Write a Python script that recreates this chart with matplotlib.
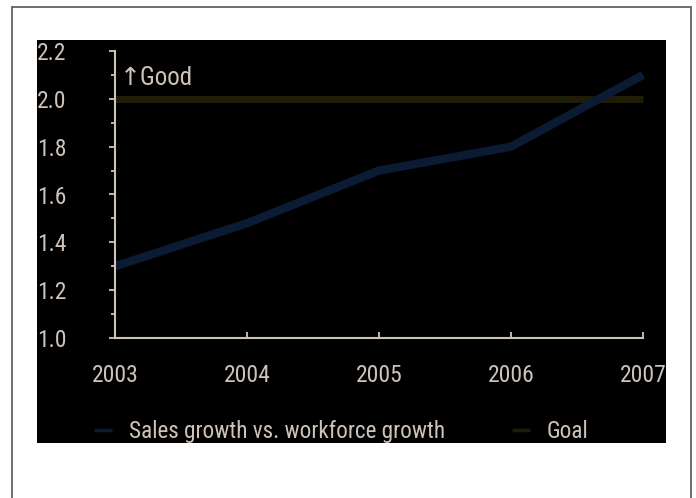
import matplotlib
matplotlib.use("Agg")
import matplotlib.pyplot as plt
from matplotlib.patches import Rectangle
from matplotlib.ticker import MultipleLocator

years = [2003, 2004, 2005, 2006, 2007]
ratio = [1.30, 1.48, 1.70, 1.80, 2.10]
goal = [2.0, 2.0, 2.0, 2.0, 2.0]
y_ticks = [1.0, 1.2, 1.4, 1.6, 1.8, 2.0, 2.2]

plt.rcParams['font.family'] = ['Roboto Condensed', 'DejaVu Sans']
txt = '#cdc3b8'
line_col = '#0b1b33'
goal_col = '#1f1c07'

fig = plt.figure(figsize=(6.96, 4.98), dpi=100)
fig.patch.set_facecolor('white')

# outer frame of the screenshot
fig.patches.append(Rectangle((12 / 696, -0.01), 679 / 696, 1 - 7 / 498 + 0.01,
                             transform=fig.transFigure, fill=False, zorder=-2,
                             edgecolor='#555555', linewidth=1.2))
# black chart panel
fig.patches.append(Rectangle((37 / 696, 55 / 498), 629 / 696, 403 / 498,
                             transform=fig.transFigure, facecolor='black',
                             edgecolor='none', zorder=-1))

ax = fig.add_axes([115 / 696, 160 / 498, 528 / 696, 287 / 498])
ax.set_facecolor('none')

ax.plot(years, goal, color=goal_col, lw=5, clip_on=False, solid_capstyle='butt',
        label='Goal')
ax.plot(years, ratio, color=line_col, lw=6, clip_on=False, solid_capstyle='butt',
        label='Sales growth vs. workforce growth')

ax.set_xlim(2003, 2007)
ax.set_ylim(1.0, 2.2)
ax.set_xticks(years)
ax.set_yticks(y_ticks)
ax.set_yticklabels(["{:.1f}".format(v) for v in y_ticks])
ax.yaxis.set_minor_locator(MultipleLocator(0.1))

for s in ['top', 'right']:
    ax.spines[s].set_visible(False)
for s in ['left', 'bottom']:
    ax.spines[s].set_color(txt)
    ax.spines[s].set_linewidth(1.5)

ax.tick_params(axis='y', which='both', colors=txt, length=4, width=1.3,
               labelsize=17, pad=52)
for lbl in ax.get_yticklabels():
    lbl.set_horizontalalignment('left')
ax.tick_params(axis='y', which='minor', length=3)
ax.tick_params(axis='x', colors=txt, length=4, width=1.3, direction='in',
               labelsize=17, pad=19)

ax.text(0.01, 0.906, '\u2191Good', transform=ax.transAxes, color=txt,
        fontsize=18, va='center', ha='left')

handles, labels = ax.get_legend_handles_labels()
leg = ax.legend(handles[::-1], labels[::-1], loc='center left',
                bbox_to_anchor=(-0.04, -0.327), ncol=2, frameon=False,
                fontsize=16.7, labelcolor=txt, handlelength=0.8,
                borderpad=0, borderaxespad=0,
                columnspacing=2.85, handletextpad=0.73)
for h in leg.get_lines():
    h.set_linewidth(2.5)

fig.savefig('out.png', dpi=100, facecolor='white')
